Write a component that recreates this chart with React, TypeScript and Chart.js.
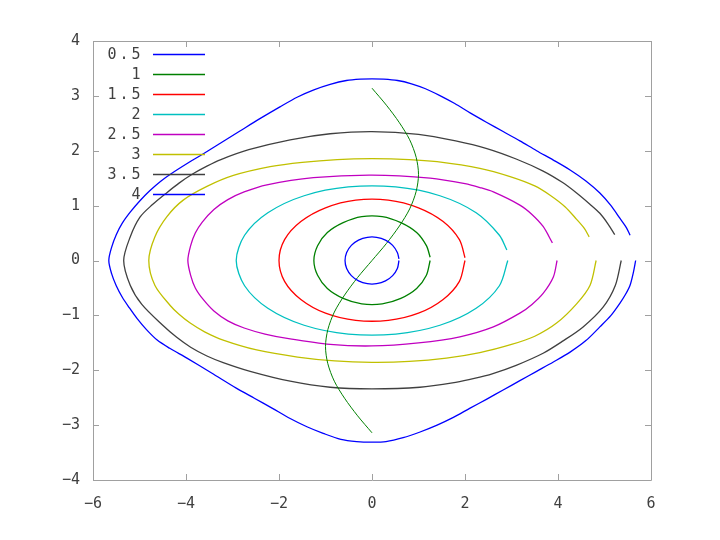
import React, { useEffect, useRef } from "react";
import { Chart, registerables } from "chart.js";

Chart.register(...registerables);

const LEGEND_LABELS = ["0.5", "1", "1.5", "2", "2.5", "3", "3.5", "4"];
const COLORS = ["#0000ff", "#008000", "#ff0000", "#00c0c0", "#c000c0", "#c0c000", "#404040", "#0000ff"];
const X_MIN = -6, X_MAX = 6, X_STEP = 2;
const Y_MIN = -4, Y_MAX = 4, Y_STEP = 1;

const orbit05: number[][] = [
  [0.58, 0], [0.545, -0.147], [0.444, -0.276], [0.29, -0.372], [0.1, -0.423], [-0.1, -0.423],
  [-0.29, -0.372], [-0.444, -0.276], [-0.545, -0.147], [-0.58, 0], [-0.545, 0.147], [-0.444, 0.276],
  [-0.29, 0.372], [-0.1, 0.423], [0.1, 0.423], [0.29, 0.372], [0.444, 0.276], [0.545, 0.147], [0.58, 0.03],
];

const orbit1: number[][] = [
  [1.25, 0], [1.17, -0.27], [0.96, -0.51], [0.62, -0.69], [0.22, -0.79], [-0.22, -0.79],
  [-0.62, -0.69], [-0.96, -0.51], [-1.17, -0.27], [-1.25, 0], [-1.17, 0.27], [-0.96, 0.51],
  [-0.62, 0.69], [-0.22, 0.8], [0.22, 0.8], [0.62, 0.69], [0.96, 0.51], [1.17, 0.27], [1.25, 0.06],
];

const separatrix1: number[][] = [
  [0, 3.14], [0.31, 2.83], [0.59, 2.51], [0.81, 2.2], [0.95, 1.88], [1.0, 1.57], [0.95, 1.26],
  [0.81, 0.94], [0.59, 0.63], [0.31, 0.31], [0, 0], [-0.31, -0.31], [-0.59, -0.63], [-0.81, -0.94],
  [-0.95, -1.26], [-1.0, -1.57], [-0.95, -1.88], [-0.81, -2.2], [-0.59, -2.51], [-0.31, -2.83], [0, -3.14],
];

const orbit15: number[][] = [
  [2.0, 0], [1.88, -0.38], [1.53, -0.71], [1.0, -0.96], [0.35, -1.09], [-0.35, -1.09],
  [-1.0, -0.96], [-1.53, -0.71], [-1.88, -0.38], [-2.0, 0], [-1.88, 0.38], [-1.53, 0.71],
  [-1.0, 0.96], [-0.35, 1.1], [0.35, 1.1], [1.0, 0.96], [1.53, 0.71], [1.88, 0.38], [2.0, 0.05],
];

const orbit2: number[][] = [
  [2.92, 0], [2.74, -0.46], [2.24, -0.87], [1.46, -1.18], [0.51, -1.34], [-0.51, -1.34],
  [-1.46, -1.18], [-2.24, -0.87], [-2.74, -0.46], [-2.92, 0], [-2.74, 0.46], [-2.24, 0.87],
  [-1.46, 1.18], [-0.51, 1.34], [0.51, 1.34], [1.46, 1.18], [2.24, 0.87], [2.74, 0.46], [2.9, 0.19],
];

const orbit25: number[][] = [
  [3.98, 0], [3.9, -0.3], [3.68, -0.6], [3.44, -0.8], [3.18, -0.96], [2.61, -1.21], [1.89, -1.39],
  [1.0, -1.5], [0, -1.557], [-0.9, -1.53], [-1.76, -1.43], [-2.3, -1.34], [-2.75, -1.23],
  [-3.1, -1.1], [-3.4, -0.92], [-3.63, -0.71], [-3.8, -0.5], [-3.9, -0.27], [-3.96, 0],
  [-3.9, 0.27], [-3.8, 0.5], [-3.65, 0.7], [-3.4, 0.93], [-3.1, 1.11], [-2.75, 1.25], [-2.26, 1.38],
  [-1.26, 1.51], [0, 1.557], [1.25, 1.5], [2.0, 1.4], [2.32, 1.33], [2.61, 1.25], [3.18, 1.01],
  [3.44, 0.84], [3.68, 0.62], [3.88, 0.32],
];

const orbit3: number[][] = [
  [4.82, 0], [4.69, -0.45], [4.4, -0.79], [3.97, -1.14], [3.5, -1.38], [3.0, -1.53], [2.32, -1.68],
  [1.6, -1.78], [0.8, -1.84], [0, -1.855], [-0.8, -1.83], [-1.6, -1.76], [-2.48, -1.63],
  [-3.2, -1.45], [-3.6, -1.3], [-3.91, -1.14], [-4.15, -0.98], [-4.34, -0.82], [-4.67, -0.45],
  [-4.8, 0], [-4.67, 0.43], [-4.41, 0.8], [-4.06, 1.1], [-3.55, 1.35], [-2.98, 1.55], [-2.19, 1.71],
  [-1.5, 1.79], [-0.75, 1.84], [0, 1.855], [0.8, 1.84], [1.4, 1.8], [2.32, 1.68], [2.97, 1.53],
  [3.5, 1.36], [3.83, 1.19], [4.15, 0.98], [4.4, 0.75], [4.57, 0.58], [4.67, 0.43],
];

const orbit35: number[][] = [
  [5.36, 0], [5.23, -0.46], [4.97, -0.85], [4.54, -1.21], [4.1, -1.47], [3.68, -1.69], [3.1, -1.91],
  [2.6, -2.06], [2.2, -2.15], [1.8, -2.22], [1.03, -2.31], [0, -2.34], [-0.9, -2.31], [-1.76, -2.2],
  [-2.62, -2.02], [-3.2, -1.86], [-3.55, -1.74], [-3.9, -1.58], [-4.2, -1.4], [-4.5, -1.18],
  [-4.95, -0.8], [-5.2, -0.45], [-5.34, 0], [-5.2, 0.43], [-4.99, 0.79], [-4.72, 1.02], [-4.45, 1.21],
  [-4.15, 1.41], [-3.85, 1.58], [-3.55, 1.72], [-3.25, 1.84], [-2.65, 2.02], [-1.76, 2.2], [-0.9, 2.31],
  [0, 2.35], [1.0, 2.3], [1.8, 2.18], [2.47, 2.04], [3.1, 1.85], [3.68, 1.63], [4.1, 1.42], [4.4, 1.23],
  [4.68, 1.03], [4.9, 0.86], [5.08, 0.66], [5.22, 0.47],
];

const orbit4: number[][] = [
  [5.67, 0], [5.62, -0.22], [5.55, -0.45], [5.45, -0.62], [5.33, -0.78], [5.14, -1.0], [4.9, -1.21],
  [4.6, -1.46], [4.26, -1.67], [3.9, -1.85], [3.54, -2.02], [3.18, -2.19], [2.82, -2.36], [2.46, -2.53],
  [2.11, -2.69], [1.75, -2.86], [1.4, -3.0], [1.02, -3.13], [0.67, -3.23], [0.3, -3.3], [0, -3.31],
  [-0.33, -3.3], [-0.67, -3.26], [-1.05, -3.15], [-1.4, -3.03], [-1.76, -2.88], [-2.15, -2.69],
  [-2.53, -2.51], [-2.91, -2.33], [-3.45, -2.05], [-3.98, -1.78], [-4.35, -1.6], [-4.62, -1.45],
  [-4.85, -1.26], [-5.05, -1.06], [-5.22, -0.86], [-5.37, -0.67], [-5.5, -0.46], [-5.6, -0.24],
  [-5.66, 0], [-5.6, 0.24], [-5.5, 0.47], [-5.37, 0.68], [-5.2, 0.88], [-5.0, 1.08], [-4.78, 1.27],
  [-4.55, 1.44], [-4.32, 1.58], [-3.95, 1.78], [-3.6, 1.96], [-3.22, 2.16], [-2.84, 2.36],
  [-2.42, 2.58], [-1.98, 2.8], [-1.6, 2.98], [-1.25, 3.11], [-0.9, 3.21], [-0.55, 3.28], [-0.25, 3.305],
  [0, 3.31], [0.25, 3.305], [0.55, 3.28], [0.85, 3.22], [1.15, 3.13], [1.45, 3.01], [1.78, 2.86],
  [2.11, 2.69], [2.46, 2.52], [2.82, 2.35], [3.18, 2.18], [3.54, 2.0], [3.9, 1.83], [4.26, 1.65],
  [4.6, 1.45], [4.9, 1.23], [5.14, 1.0], [5.33, 0.77], [5.47, 0.6], [5.55, 0.46],
];

const SERIES = [orbit05, orbit1, orbit15, orbit2, orbit25, orbit3, orbit35, orbit4];

const AXIS_COLOR = "#a0a0a0";
const TEXT_COLOR = "#404040";
const FONT_FAMILY = "'DejaVu Sans Mono', 'Liberation Mono', monospace";

const fmt = (v: number) => String(v).replace("-", "\u2212");

const framePlugin = {
  id: "gnuFrame",
  beforeDatasetsDraw(chart: any) {
    const { ctx, chartArea: a, scales } = chart;
    ctx.save();
    ctx.strokeStyle = AXIS_COLOR;
    ctx.lineWidth = 1;
    ctx.beginPath();
    ctx.rect(Math.round(a.left) + 0.5, Math.round(a.top) + 0.5, Math.round(a.right - a.left), Math.round(a.bottom - a.top));
    const L = 6;
    for (let v = X_MIN; v <= X_MAX; v += X_STEP) {
      const px = Math.round(scales.x.getPixelForValue(v)) + 0.5;
      ctx.moveTo(px, a.bottom); ctx.lineTo(px, a.bottom - L);
      ctx.moveTo(px, a.top); ctx.lineTo(px, a.top + L);
    }
    for (let v = Y_MIN; v <= Y_MAX; v += Y_STEP) {
      const py = Math.round(scales.y.getPixelForValue(v)) + 0.5;
      ctx.moveTo(a.left, py); ctx.lineTo(a.left + L, py);
      ctx.moveTo(a.right, py); ctx.lineTo(a.right - L, py);
    }
    ctx.stroke();
    ctx.restore();
  },
  afterDatasetsDraw(chart: any) {
    const { ctx, chartArea: a } = chart;
    ctx.save();
    ctx.font = `15px ${FONT_FAMILY}`;
    ctx.fillStyle = TEXT_COLOR;
    ctx.textAlign = "center";
    ctx.textBaseline = "middle";
    LEGEND_LABELS.forEach((lab, i) => {
      const y = a.top + 13 + 20 * i;
      const n = lab.length;
      for (let j = 0; j < n; j++) {
        const cx = a.left + 43 - 12 * (n - 1 - j);
        ctx.fillText(lab[j], cx, y + 1);
      }
      ctx.strokeStyle = COLORS[i];
      ctx.lineWidth = 1.3;
      ctx.beginPath();
      ctx.moveTo(a.left + 60, y + 0.5);
      ctx.lineTo(a.left + 112, y + 0.5);
      ctx.stroke();
    });
    ctx.restore();
  },
};

export default function App() {
  const ref = useRef<HTMLCanvasElement | null>(null);
  useEffect(() => {
    if (!ref.current) return;
    const toPts = (arr: number[][]) => arr.map(([x, y]) => ({ x, y }));
    const datasets: any[] = SERIES.map((s, i) => ({
      label: LEGEND_LABELS[i],
      data: toPts(s),
      borderColor: COLORS[i],
      backgroundColor: COLORS[i],
      borderWidth: 1.3,
      showLine: true,
      pointRadius: 0,
      tension: 0.3,
      fill: false,
    }));
    datasets.splice(2, 0, {
      label: "",
      data: toPts(separatrix1),
      borderColor: COLORS[1],
      backgroundColor: COLORS[1],
      borderWidth: 1,
      showLine: true,
      pointRadius: 0,
      tension: 0.3,
      fill: false,
    });
    const chart = new Chart(ref.current, {
      type: "scatter",
      data: { datasets },
      options: {
        animation: false,
        responsive: false,
        maintainAspectRatio: false,
        layout: { padding: { left: 0, top: 41, right: 69, bottom: 0 } },
        plugins: { legend: { display: false }, tooltip: { enabled: false } },
        scales: {
          x: {
            type: "linear",
            min: X_MIN,
            max: X_MAX,
            afterFit: (s: any) => { s.height = 60; },
            grid: { display: false, drawTicks: false },
            border: { display: false },
            ticks: {
              stepSize: X_STEP,
              padding: 15,
              color: TEXT_COLOR,
              font: { family: FONT_FAMILY, size: 15 },
              callback: (v: any) => fmt(Number(v)),
            },
          },
          y: {
            type: "linear",
            min: Y_MIN,
            max: Y_MAX,
            afterFit: (s: any) => { s.width = 93; },
            grid: { display: false, drawTicks: false },
            border: { display: false },
            ticks: {
              stepSize: Y_STEP,
              padding: 13,
              color: TEXT_COLOR,
              font: { family: FONT_FAMILY, size: 15 },
              callback: (v: any) => fmt(Number(v)),
            },
          },
        },
      },
      plugins: [framePlugin],
    });
    return () => chart.destroy();
  }, []);
  return (
    <div style={{ position: "fixed", left: 0, top: 0, width: 720, height: 540, background: "#fff" }}>
      <canvas ref={ref} width={720} height={540} style={{ width: 720, height: 540 }} />
    </div>
  );
}
